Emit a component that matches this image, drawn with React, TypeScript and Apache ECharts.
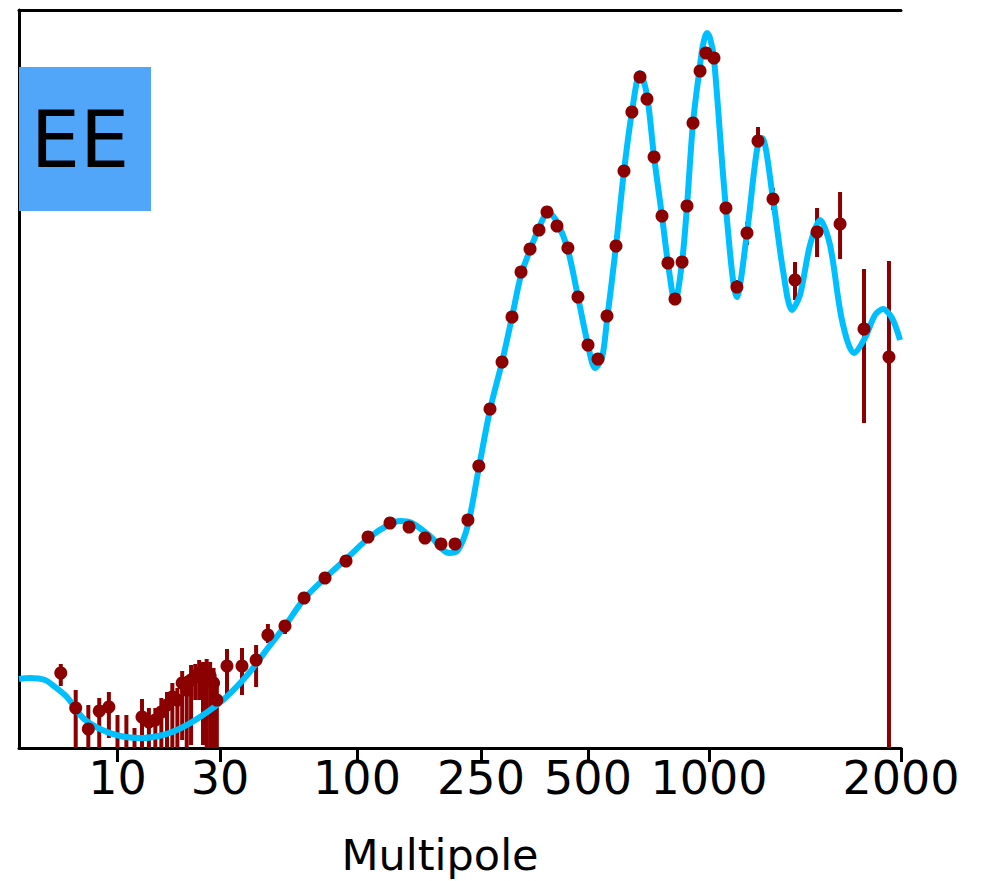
import React, { useEffect, useRef } from "react";
import * as echarts from "echarts";

// ---------- axis ticks ----------
const tickEll = [10, 30, 100, 250, 500, 1000, 2000];
const tickLabels = ["10", "30", "100", "250", "500", "1000", "2000"];

// hybrid multipole scale: anchor multipoles and their relative axis positions
const SCALE_ELL = [3, 10, 30, 100, 250, 500, 1000, 2000];
const SCALE_POS = [0, 98.5, 201, 338, 462, 569, 690, 882];

// ---------- low-ell (unbinned) data ----------
const lowEll = [5, 6, 7, 8, 9, 10, 11, 12, 13, 14, 15, 16, 17, 18, 19, 20, 21, 22, 23, 24, 25, 26, 27, 28, 29];
const lowVal = [7.5, 4.0, 1.9, 3.7, 4.1, -2.2, -2.2, -2.7, 3.1, 2.6, 2.8, 3.6, 4.3, 5.1, 4.8, 6.5, 5.8, 6.8, 7.1, 7.5, 7.3, 7.6, 7.2, 6.5, 4.8];
const lowHi = [8.4, 5.8, 4.3, 5.0, 5.6, 3.3, 3.3, 2.0, 4.9, 4.0, 4.0, 5.0, 5.6, 6.5, 6.0, 7.7, 7.2, 8.3, 8.4, 8.8, 8.6, 8.9, 8.6, 8.0, 6.3];
const lowLo = [6.2, -1.2, -1.2, -1.2, 1.0, -5.2, -5.2, -6.2, -1, -1, -1, -1, -1, -1, -1, 0.8, -1, 0.3, 4.8, 4.8, 0.3, -1, -1, -1, -1];

// ---------- binned data ----------
const binEll = [31.9, 36.4, 41.2, 45.7, 53.1, 62.8, 75.5, 90.8, 108.5, 127.6, 146.9, 165.3, 186, 206.3, 227, 246, 265, 286.5, 305.6, 324, 343.5, 364, 383.4, 409, 439, 468.6, 500, 529.5, 557.5, 587, 614.5, 643, 673.5, 701, 730, 764, 790.5, 823, 857, 881.6, 912.4, 950, 983, 1018, 1063, 1106, 1147, 1193.5, 1260, 1364, 1477, 1605, 1750, 1915];
const binVal = [8.2, 8.2, 8.8, 11.3, 12.2, 15.0, 17.0, 18.7, 21.1, 22.5, 22.1, 21.0, 20.4, 20.4, 22.8, 28.2, 33.9, 38.6, 43.1, 47.6, 49.9, 51.8, 53.6, 52.2, 50.0, 45.1, 40.3, 38.9, 43.2, 50.2, 57.7, 63.6, 67.1, 64.9, 59.1, 53.2, 48.5, 44.9, 48.6, 54.2, 62.5, 67.7, 69.5, 69.0, 54.0, 46.1, 51.5, 60.7, 54.9, 46.8, 51.6, 52.4, 41.9, 39.1];
const binHi = [9.9, 10.0, 10.3, 12.4, 12.8, 15.3, 17.3, 19.0, 21.4, 22.8, 22.4, 21.3, 20.7, 20.7, 23.1, 28.5, 34.2, 38.9, 43.4, 47.9, 50.2, 52.1, 53.9, 52.5, 50.3, 45.4, 40.6, 39.2, 43.5, 50.5, 58.0, 63.9, 67.4, 65.2, 59.4, 53.5, 48.8, 45.2, 48.9, 54.5, 62.8, 68.0, 70.1, 69.5, 54.4, 46.8, 52.6, 62.1, 56.0, 48.6, 54.0, 55.6, 47.9, 48.7];
const binLo = [5.1, 5.3, 6.1, 10.5, 11.4, 14.7, 16.7, 18.4, 20.8, 22.2, 21.8, 20.7, 20.1, 20.1, 22.5, 27.9, 33.6, 38.3, 42.8, 47.3, 49.6, 51.5, 53.3, 51.9, 49.7, 44.8, 40.0, 38.6, 42.9, 49.9, 57.4, 63.3, 66.8, 64.6, 58.8, 52.9, 48.2, 44.6, 48.3, 53.9, 62.2, 67.4, 68.9, 68.5, 53.6, 44.9, 50.3, 59.8, 53.8, 44.8, 49.1, 48.9, 32.5, -1.2];

// ---------- best-fit theory curve ----------
const theoryEll = [3, 3.43, 4.12, 4.66, 5.39, 6.56, 8.07, 10.27, 13.0, 16.3, 20.2, 25.0, 30.8, 36.7, 41.2, 45.7, 53.1, 62.8, 75.5, 91.6, 110, 127.6, 137.4, 150, 171.5, 197.4, 210.9, 227, 246, 265, 286.5, 305.6, 324, 343.5, 364, 386, 409, 439, 468.6, 500, 520.5, 541.7, 557.5, 587, 614.5, 643, 673.5, 701, 730, 764, 790.5, 823, 857, 881.6, 912.4, 950, 966, 988.6, 1003.6, 1018, 1063, 1106, 1147, 1189, 1211, 1260, 1306, 1349, 1389, 1440, 1493, 1548, 1616, 1688, 1756, 1821, 1874, 1936, 1993];
const theoryVal = [6.9, 7.0, 6.8, 6.1, 5.1, 3.0, 1.9, 1.2, 1.0, 1.3, 2.1, 3.3, 4.8, 6.8, 8.4, 10.0, 12.2, 14.9, 17.0, 19.0, 21.1, 22.4, 22.7, 22.5, 21.2, 19.5, 19.8, 22.3, 28.0, 33.8, 38.6, 43.1, 47.3, 49.8, 52.0, 53.6, 52.6, 49.8, 45.1, 40.3, 38.0, 39.0, 42.8, 50.2, 57.7, 63.6, 67.5, 65.3, 59.1, 53.2, 48.5, 44.6, 48.6, 54.2, 62.5, 68.3, 70.3, 71.5, 71.0, 69.0, 54.0, 45.1, 51.5, 59.8, 61.0, 54.9, 47.8, 43.8, 45.3, 50.3, 52.8, 50.3, 42.8, 39.5, 41.0, 43.3, 43.9, 43.0, 40.8];

const Y_MAX = 73.8;

function xScale(ell: number): number {
  const n = SCALE_ELL.length;
  let i = 0;
  while (i < n - 2 && ell > SCALE_ELL[i + 1]) i++;
  const e0 = SCALE_ELL[i], e1 = SCALE_ELL[i + 1];
  const p0 = SCALE_POS[i], p1 = SCALE_POS[i + 1];
  return p0 + ((p1 - p0) * Math.log(ell / e0)) / Math.log(e1 / e0);
}

export default function App() {
  const ref = useRef<HTMLDivElement>(null);
  useEffect(() => {
    if (!ref.current) return;
    const chart = echarts.init(ref.current, undefined, { renderer: "svg" });
    const tickPos = tickEll.map(xScale);
    const labelFor = (v: number) => {
      let best = 0;
      for (let i = 0; i < tickPos.length; i++) {
        if (Math.abs(tickPos[i] - v) < Math.abs(tickPos[best] - v)) best = i;
      }
      return tickLabels[best];
    };
    const errData = [
      ...lowEll.map((e, i) => [xScale(e), lowLo[i], lowHi[i]]),
      ...binEll.map((e, i) => [xScale(e), binLo[i], binHi[i]]),
    ];
    const dotData = [
      ...lowEll.map((e, i) => [xScale(e), lowVal[i]]),
      ...binEll.map((e, i) => [xScale(e), binVal[i]]),
    ];
    const lineData = theoryEll.map((e, i) => [xScale(e), theoryVal[i]]);
    const font = "DejaVu Sans";
    chart.setOption({
      animation: false,
      backgroundColor: "#ffffff",
      textStyle: { fontFamily: font },
      grid: { left: 19, right: 89, top: 10, bottom: 133, containLabel: false },
      xAxis: [
        {
          type: "value",
          min: 0,
          max: SCALE_POS[SCALE_POS.length - 1],
          axisLine: { show: true, lineStyle: { color: "#000", width: 3 } },
          axisTick: { show: true, customValues: tickPos, length: 14, lineStyle: { color: "#000", width: 3 } },
          axisLabel: {
            show: true,
            customValues: tickPos,
            formatter: (v: number) => labelFor(v),
            fontSize: 46,
            color: "#000",
            fontFamily: font,
            margin: 7,
          },
          splitLine: { show: false },
          name: "Multipole",
          nameLocation: "middle",
          nameGap: 85,
          nameTextStyle: { fontSize: 43, color: "#000", fontFamily: font, padding: [0, 40, 0, 0] },
        },
        {
          type: "value",
          position: "top",
          min: 0,
          max: SCALE_POS[SCALE_POS.length - 1],
          axisLine: { show: true, lineStyle: { color: "#000", width: 3 } },
          axisTick: { show: false },
          axisLabel: { show: false },
          splitLine: { show: false },
        },
      ],
      yAxis: {
        type: "value",
        position: "right",
        min: 0,
        max: Y_MAX,
        axisLine: { show: true, lineStyle: { color: "#000", width: 3 } },
        axisTick: { show: false },
        axisLabel: { show: false },
        splitLine: { show: false },
      },
      series: [
        {
          type: "custom",
          name: "errors",
          z: 2,
          clip: true,
          data: errData,
          renderItem: (params: any, api: any) => {
            const x = api.value(0);
            const lo = Math.max(api.value(1), 0);
            const hi = Math.min(api.value(2), Y_MAX);
            if (hi <= 0) return null;
            const pLo = api.coord([x, lo]);
            const pHi = api.coord([x, hi]);
            return {
              type: "rect",
              shape: { x: pLo[0] - 2, y: pHi[1], width: 4, height: pLo[1] - pHi[1] },
              style: { fill: "#8b0000" },
            };
          },
        },
        {
          type: "line",
          name: "theory",
          z: 3,
          data: lineData,
          showSymbol: false,
          smooth: 0.3,
          clip: true,
          lineStyle: { color: "#00bfff", width: 6 },
        },
        {
          type: "scatter",
          name: "data",
          z: 4,
          clip: true,
          data: dotData,
          symbol: "circle",
          symbolSize: 13,
          itemStyle: { color: "#8b0000", opacity: 1 },
        },
      ],
      graphic: [
        {
          type: "rect",
          left: 19,
          top: 67,
          shape: { width: 132, height: 144 },
          style: { fill: "#51a6f9" },
          z: 10,
        },
        {
          type: "text",
          x: 80,
          y: 140,
          z: 11,
          style: {
            text: "EE",
            fill: "#000",
            font: `78px '${font}'`,
            align: "center",
            verticalAlign: "middle",
          },
        },
      ],
    });
    return () => chart.dispose();
  }, []);
  return (
    <div
      ref={ref}
      style={{ position: "fixed", left: 0, top: 0, width: 990, height: 881, background: "#fff" }}
    />
  );
}
